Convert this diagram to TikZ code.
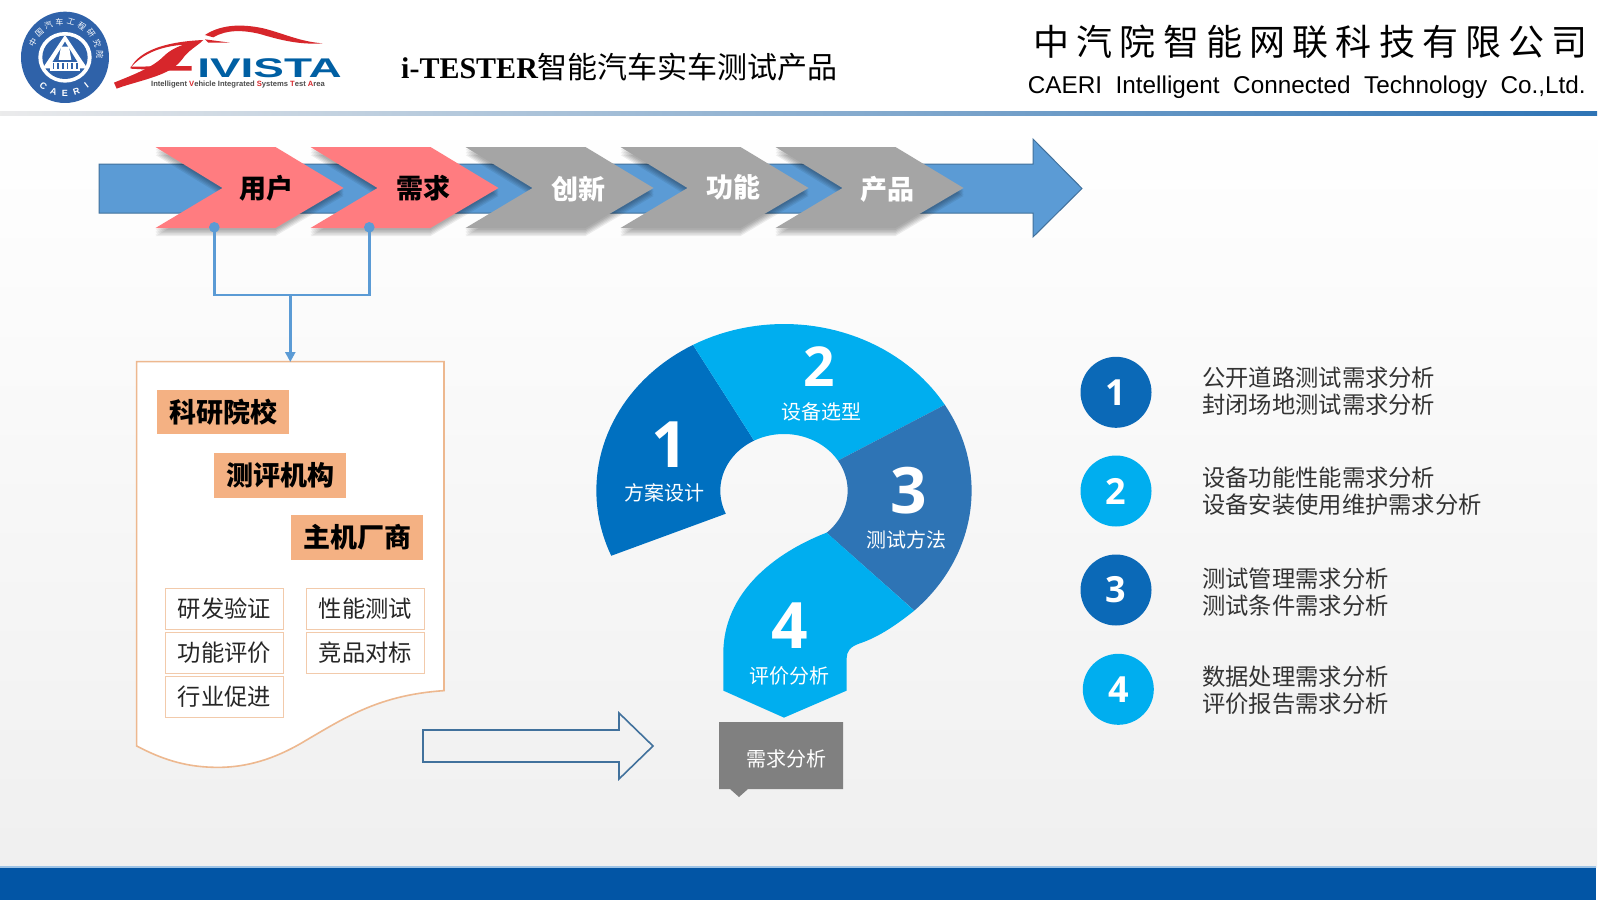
\documentclass[tikz,border=0pt]{standalone}
\usepackage{fontspec}
\setmainfont{Noto Sans CJK SC}
\newfontfamily\timesfont{Liberation Serif}
\newfontfamily\arialfont{Liberation Sans}
\newfontfamily\digitfont{Open Sans}
\newfontfamily\widecjk[LetterSpace=20]{Noto Sans CJK SC}
\usetikzlibrary{arrows.meta}
\newcommand\pxfont[1]{\fontsize{#1}{#1}\selectfont}
\definecolor{cpink}{HTML}{FF7C80}
\definecolor{cgrey}{HTML}{A5A5A5}
\definecolor{cblue}{HTML}{5B9BD5}
\definecolor{cblueedge}{HTML}{41719C}
\definecolor{cdark}{HTML}{0070C0}
\definecolor{cdarkc}{HTML}{0B69B7}
\definecolor{clight}{HTML}{00AEEF}
\definecolor{cmid}{HTML}{2E74B5}
\definecolor{corange}{HTML}{F4B183}
\definecolor{cedge}{HTML}{EDB88F}
\definecolor{clogo}{HTML}{2F62A9}
\definecolor{cred}{HTML}{D7262B}
\definecolor{cband}{HTML}{0255A5}
\tikzset{
  x=1pt,y=-1pt,
  chevlabel/.style={inner sep=0pt,font=\pxfont{27}\bfseries},
  tagbox/.style={fill=corange,minimum width=132pt,minimum height=44.5pt,inner sep=0pt,font=\pxfont{27}\bfseries,text=black},
  itembox/.style={fill=white,draw=cedge!75,line width=1pt,minimum width=118pt,minimum height=41pt,inner sep=0pt,font=\pxfont{23.3},text=black!85},
  seglabel/.style={inner sep=0pt,text=white,font=\pxfont{20}},
  bignum/.style={inner sep=0pt,text=white,font=\digitfont\bfseries\pxfont{64}},
  listdot/.style={circle,minimum size=71pt,inner sep=0pt,text=white,font=\digitfont\bfseries\pxfont{36}},
  listtext/.style={anchor=west,inner sep=0pt,align=left,text=black!80,font=\fontsize{23.3}{27.5}\selectfont},
  conn/.style={draw=cblue,line width=2.4pt},
}
\begin{document}
\begin{tikzpicture}
\useasboundingbox (0,0) rectangle (1600,900);
% background
\fill[white] (0,0) rectangle (1600,900);
\shade[top color=white,bottom color=black!6] (0,115) rectangle (1597,867);
\shade[left color=blue!4!black!8!white,middle color=cblue!60!white,right color=cmid] (0,111) rectangle (1597,115);
\fill[cband] (0,867) rectangle (1596,900);
\fill[cblue!60] (0,866) rectangle (1596,868);
% CAERI logo
\begin{scope}[shift={(0,0)},x=.3333pt,y=-.3333pt]
  \fill[clogo] (195,172) ellipse [x radius=132,y radius=137];
  \fill[white] (195,172) ellipse [x radius=80,y radius=76];
  \fill[clogo] (195,172) ellipse [x radius=68,y radius=65];
  \fill[white] (195,105) -- (262,205) -- (128,205) -- cycle;
  \fill[clogo] (195,125) -- (238,195) -- (152,195) -- cycle;
  \fill[white] (183,140) -- (207,140) -- (214,180) -- (176,180) -- cycle;
  \fill[white] (150,186) rectangle (240,212);
  \foreach \sx in {158,172,186,200,214,228} \fill[clogo] (\sx,190) rectangle ++(5,18);
  \foreach \ch/\ang in {中/150,国/131,汽/112,车/93,工/74,程/55,研/36,究/17,院/-2}
    \node[inner sep=0pt,text=white,rotate=\ang-90,font=\pxfont{8}] (seal\ang) at ({195+105*cos(\ang+6)},{172-108*sin(\ang+6)}) {\ch};
  \foreach \ch/\ang in {C/232,A/251,E/270,R/289,I/308}
    \node[inner sep=0pt,text=white,rotate=\ang-270,font=\arialfont\bfseries\pxfont{9}] (sealb\ang) at ({195+105*cos(\ang)},{172-108*sin(\ang)}) {\ch};
\end{scope}
% IVISTA logo
\begin{scope}[x=.3333pt,y=-.3333pt]
  \fill[cred] (615,105) .. controls (660,75) and (720,70) .. (790,85) .. controls (850,100) and (900,125) .. (968,130) .. controls (900,135) and (840,120) .. (780,102) .. controls (730,90) and (680,88) .. (640,112) -- cycle;
  \fill[cred] (615,118) -- (690,128) -- (625,128) -- cycle;
  \fill[cred] (392,203) .. controls (420,150) and (500,125) .. (610,120) .. controls (590,140) and (565,150) .. (545,180) .. controls (520,212) and (480,225) .. (440,238) .. controls (400,250) and (370,258) .. (350,266) -- (342,248) .. controls (390,228) and (455,205) .. (490,170) .. controls (510,150) and (530,142) .. (550,134) .. controls (480,140) and (430,160) .. (392,203) -- cycle;
  \fill[cred] (392,200) -- (575,198) -- (575,212) -- (500,212) -- (392,206) -- cycle;
\end{scope}
\node[inner sep=0pt,anchor=base west,text=cdark!85!black,font=\arialfont\bfseries\pxfont{27},xscale=1.7] (ivista) at (197,77.5) {IVISTA};
\node[inner sep=0pt,text=black!70,font=\arialfont\bfseries\pxfont{7.6}] (ivistasub) at (238,84.5) {Intelligent {\color{cred}V}ehicle Integrated {\color{cred}S}ystems {\color{cred}T}est {\color{cred}A}rea};
% header
\node[inner sep=0pt,anchor=west,font=\pxfont{30}] (title) at (401,67) {{\timesfont\bfseries i-TESTER}智能汽车实车测试产品};
\node[inner sep=0pt,font=\widecjk\pxfont{36}] (company) at (1310.6,41.5) {中汽院智能网联科技有限公司};
\node[inner sep=0pt,anchor=east,font=\arialfont\pxfont{24.3}] (companyen) at (1586,87) {CAERI\ \ Intelligent\ \ Connected\ \ Technology\ \ Co.,Ltd.};
% process arrow
\draw[fill=cblue,draw=cblueedge,line width=1pt] (99,164) -- (1033,164) -- (1033,139) -- (1082,188.5) -- (1033,237) -- (1033,213) -- (99,213) -- cycle;
\foreach \xx/\cc in {155.5/cpink,310.5/cpink,465.5/cgrey,620.5/cgrey,775.5/cgrey}{
  \foreach \off in {8,6.5,5,3.5,2}
    \fill[black,opacity=.07] (\xx,147+\off) -- ++(120,0) -- ++(68,41) -- ++(-68,40) -- ++(-120,0) -- ++(67,-40) -- cycle;
  \fill[\cc] (\xx,147) -- ++(120,0) -- ++(68,41) -- ++(-68,40) -- ++(-120,0) -- ++(67,-40) -- cycle;
}
\node[chevlabel,text=black] (user) at (266,188) {用户};
\node[chevlabel,text=black] (need) at (423,188) {需求};
\node[chevlabel,text=white] (innov) at (578,189) {创新};
\node[chevlabel,text=white] (func) at (733,187) {功能};
\node[chevlabel,text=white] (prod) at (887,189) {产品};
% document
\draw[fill=white,draw=cedge,line width=1.6pt,shift={(120,340)},x=.3333pt,y=-.3333pt] (50,65) -- (972,65) -- (972,1052) .. controls (780,1065) and (680,1130) .. (560,1200) .. controls (470,1255) and (380,1285) .. (280,1282) .. controls (190,1280) and (120,1255) .. (50,1218) -- cycle;
\coordinate (doctop) at (290.3,362);
% connector
\coordinate (dotA) at (214.3,227.3);
\coordinate (dotB) at (369.3,227.3);
\coordinate (junc) at (290.3,294.7);
\draw[conn] (dotA) |- (junc) -| (dotB);
\draw[conn,-{Triangle[length=10pt,width=10pt]}] (junc) -- (doctop);
\fill[cblue] (dotA) circle[radius=5.3];
\fill[cblue] (dotB) circle[radius=5.3];
% tags
\node[tagbox] (t1) at (223,412) {科研院校};
\node[tagbox] (t2) at (280,475.5) {测评机构};
\node[tagbox] (t3) at (357,537.5) {主机厂商};
\node[itembox] (i1) at (224.3,608.7) {研发验证};
\node[itembox] (i2) at (365.3,608.7) {性能测试};
\node[itembox] (i3) at (224.3,653) {功能评价};
\node[itembox] (i4) at (365.3,653) {竞品对标};
\node[itembox] (i5) at (224.3,697) {行业促进};
% hollow arrow
\draw[draw=cblueedge,line width=1.6pt] (423,730) -- (619,730) -- (619,713) -- (653,746) -- (619,779) -- (619,762) -- (423,762) -- cycle;
% question mark
\begin{scope}[shift={(560,300)},x=.3333pt,y=-.3333pt]
  \fill[cdark] plot[domain=119:203,samples=40] ({672+563*cos(\x)},{572-500*sin(\x)}) -- plot[domain=204:118,samples=40] ({672+191*cos(\x)},{572-170*sin(\x)}) -- cycle;
  \fill[clight] plot[domain=31:119,samples=40] ({672+563*cos(\x)},{572-500*sin(\x)}) -- plot[domain=118:32,samples=40] ({672+191*cos(\x)},{572-170*sin(\x)}) -- cycle;
  \fill[cmid] plot[domain=-46:31,samples=40] ({672+563*cos(\x)},{572-500*sin(\x)}) -- plot[domain=32:-48,samples=40] ({672+191*cos(\x)},{572-170*sin(\x)}) -- cycle;
  \fill[clight] (800,698) .. controls (640,760) and (490,880) .. (490,1060) -- (490,1172) -- (672,1253) -- (860,1172) -- (860,1075) .. controls (860,1055) and (870,1040) .. (900,1030) .. controls (960,1010) and (1015,970) .. (1063,932) -- cycle;
\end{scope}
\node[bignum] (n1) at (670,445) {1};
\node[bignum,font=\digitfont\bfseries\pxfont{55}] (n2) at (819,367) {2};
\node[bignum] (n3) at (909,491) {3};
\node[bignum] (n4) at (790,626) {4};
\node[seglabel] (s1) at (664,493) {方案设计};
\node[seglabel] (s2) at (821,412) {设备选型};
\node[seglabel] (s3) at (906,540) {测试方法};
\node[seglabel] (s4) at (789,676) {评价分析};
% grey callout
\fill[black!50] (719,722) -- (843,722) -- (843,789) -- (748,789) -- (739,797) -- (730,789) -- (719,789) -- cycle;
\node[seglabel] (callout) at (786,758.5) {需求分析};
% list
\node[listdot,fill=cdarkc] (d1) at (1116,392.3) {1};
\node[listdot,fill=clight] (d2) at (1116,491) {2};
\node[listdot,fill=cdarkc] (d3) at (1116,590) {3};
\node[listdot,fill=clight] (d4) at (1118.3,689.3) {4};
\node[listtext] (l1) at (1202,391) {公开道路测试需求分析\\封闭场地测试需求分析};
\node[listtext] (l2) at (1202,491) {设备功能性能需求分析\\设备安装使用维护需求分析};
\node[listtext] (l3) at (1202,592) {测试管理需求分析\\测试条件需求分析};
\node[listtext] (l4) at (1202,690) {数据处理需求分析\\评价报告需求分析};
\end{tikzpicture}
\end{document}
